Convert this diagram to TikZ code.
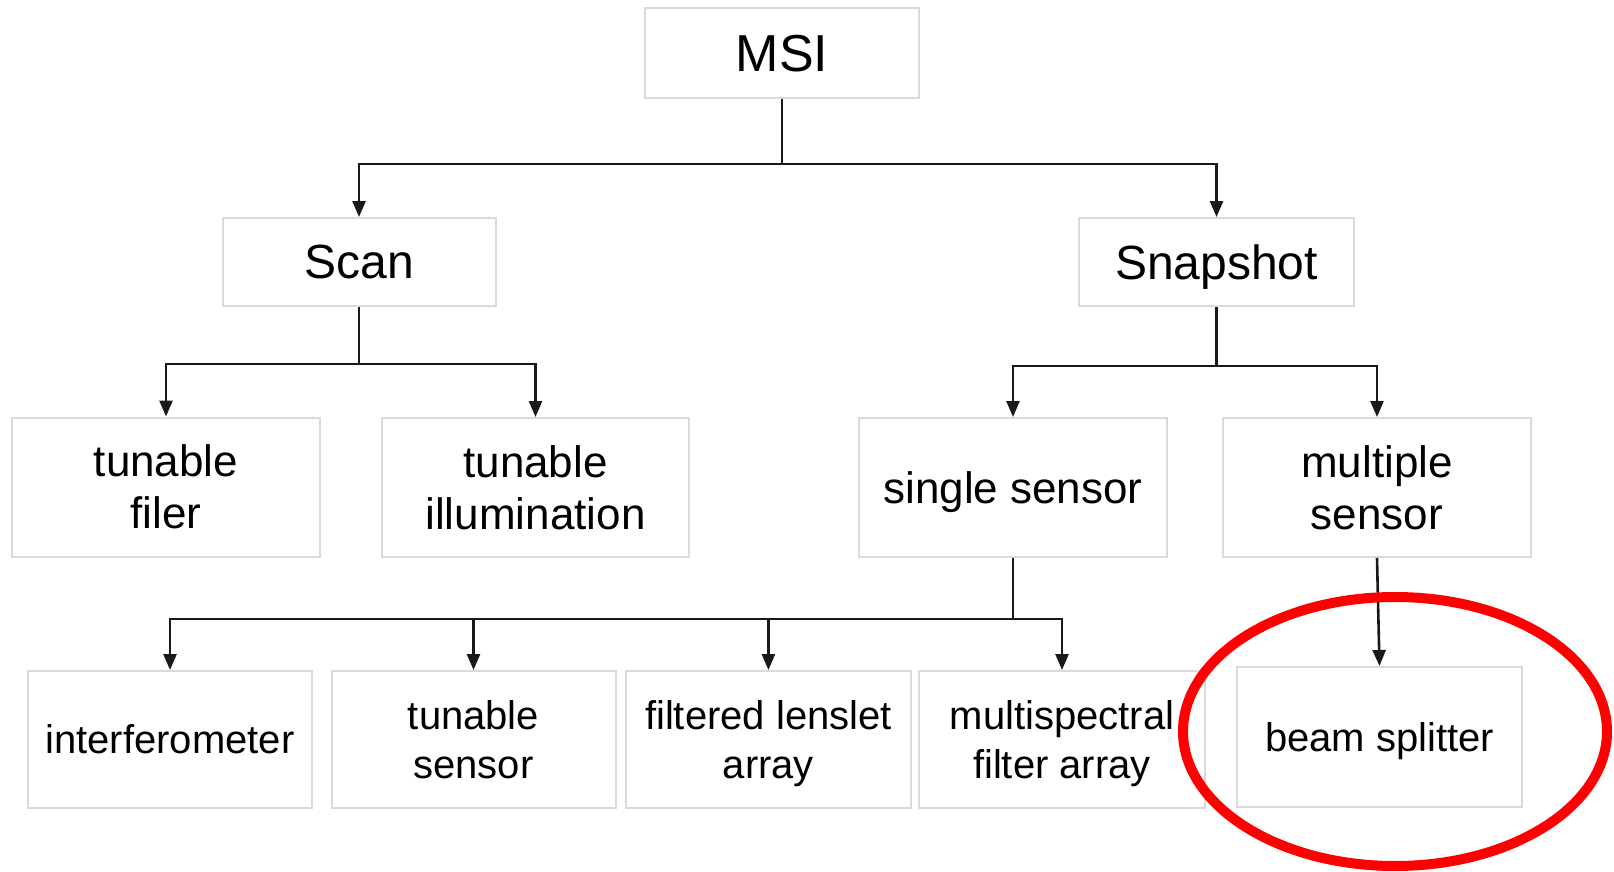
\documentclass[tikz,border=0pt]{standalone}
\usepackage{fontspec}
\setmainfont{Liberation Sans}
\usetikzlibrary{positioning,arrows.meta}
\definecolor{boxgray}{RGB}{218,218,218}
\definecolor{linegray}{RGB}{25,25,25}
\begin{document}
\begin{tikzpicture}[x=1pt,y=-1pt,
    box/.style={draw=boxgray,line width=2pt,inner sep=0pt,align=center,text=black,text depth=0pt},
    lvla/.style={box,font=\fontsize{48}{56}\selectfont,minimum width=273pt,minimum height=88pt},
    lvlb/.style={box,font=\fontsize{44}{52}\selectfont,minimum width=308pt,minimum height=139pt},
    lvlc/.style={box,font=\fontsize{40}{49}\selectfont,minimum width=285pt,minimum height=137pt},
    link/.style={draw=linegray,line width=2.6pt},
    arr/.style={link,-{Triangle[width=13pt,length=16pt]}}]
  \useasboundingbox (0,0) rectangle (1614,872);
  \node[box,font=\fontsize{52}{60}\selectfont,minimum width=274pt,minimum height=90pt] (msi) at (782,53) {MSI};%root
  \node[lvla] (scan) at (359,262) {Scan};
  \node[lvla,minimum width=275pt] (snap) at (1216.5,262) {Snapshot};
  \node[lvlb] (filer) at (166,487) {tunable\\filer};
  \node[lvlb,minimum width=307pt] (illum) at (535.5,487.5) {tunable\\illumination};
  \node[lvlb] (single) at (1013,487.5) {single sensor};
  \node[lvlb] (multiple) at (1377,487.5) {multiple\\sensor};
  \node[lvlc,minimum width=284pt] (interf) at (170,739.5) {interferometer};
  \node[lvlc,minimum width=284pt] (tsensor) at (473.5,739.5) {tunable\\sensor};
  \node[lvlc] (lenslet) at (768.4,739.5) {filtered lenslet\\array};
  \node[lvlc,minimum width=286pt] (msfa) at (1062,739.5) {multispectral\\filter array};
  \node[lvlc,minimum height=140pt] (beam) at (1379.5,737) {beam splitter};
  % MSI
  \draw[link] (msi.south) -- ++(0,65) coordinate (j0);
  \draw[arr] (j0) -| (scan.north);
  \draw[arr] (j0) -| (snap.north);
  % Scan
  \draw[link] (scan.south) -- ++(0,57) coordinate (j1);
  \draw[arr] (j1) -| (filer.north);
  \draw[arr] (j1) -| (illum.north);
  % Snapshot
  \draw[link] (snap.south) -- ++(0,59) coordinate (j2);
  \draw[arr] (j2) -| (single.north);
  \draw[arr] (j2) -| (multiple.north);
  % single sensor
  \draw[link] (single.south) -- ++(0,61) coordinate (j3);
  \draw[arr] (j3) -| (interf.north);
  \draw[arr] (j3) -| (tsensor.north);
  \draw[arr] (j3) -| (lenslet.north);
  \draw[arr] (j3) -| (msfa.north);
  \draw[arr] (multiple.south) -- (beam.north);
  \draw[red,line width=10pt] (1395,731.5) ellipse [x radius=212pt,y radius=134.5pt];%mark
\end{tikzpicture}
\end{document}
